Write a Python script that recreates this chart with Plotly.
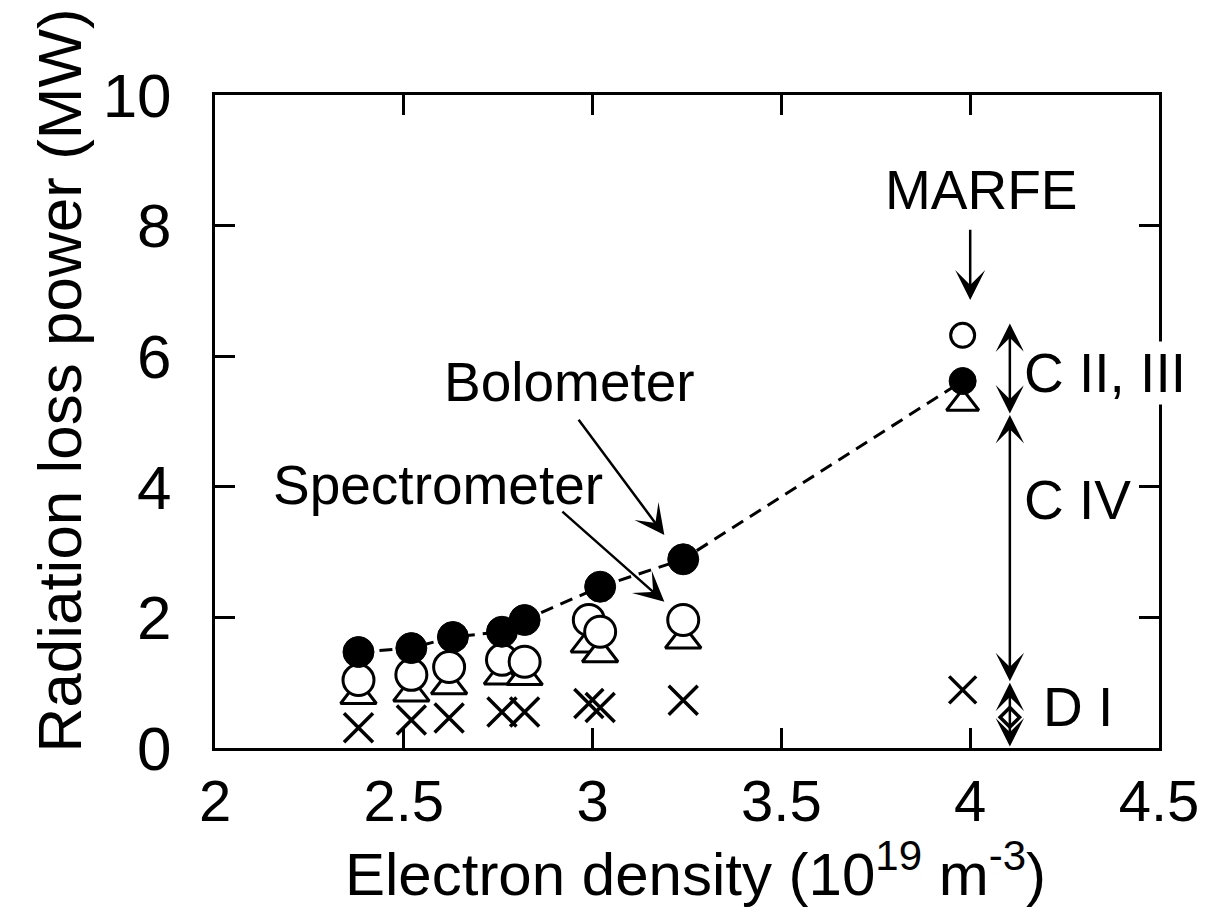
import plotly.graph_objects as go

# Electron density (10^19 m^-3)
density_bolo = [2.38, 2.52, 2.63, 2.76, 2.82, 3.02, 3.24, 3.98]
# Bolometer radiation loss power (MW)
power_bolo = [1.47, 1.53, 1.70, 1.78, 1.96, 2.47, 2.89, 5.62]

density_spec = [2.38, 2.52, 2.62, 2.76, 2.82, 2.99, 3.02, 3.24, 3.98]
# Spectrometer total (open circles)
power_spec_total = [1.04, 1.12, 1.24, 1.35, 1.32, 1.96, 1.78, 1.96, 6.32]
# Spectrometer C IV + D I (triangles)
power_spec_civ = [0.80, 0.84, 0.95, 1.10, 1.09, 1.59, 1.44, 1.65, 5.28]
# Spectrometer D I (crosses)
power_spec_di = [0.31, 0.43, 0.46, 0.55, 0.55, 0.68, 0.62, 0.73, 0.89]

# Vertical breakdown bar at the MARFE density
bar_x = 4.105
bar_levels = [0.0, 1.0, 5.1, 6.5]
bar_labels = ["D I", "C IV", "C II, III"]
bar_label_y = [0.63, 3.8, 5.74]

x_ticks = [2, 2.5, 3, 3.5, 4, 4.5]
y_ticks = [0, 2, 4, 6, 8, 10]

FONT = "Liberation Sans, Arial, sans-serif"
BLACK = "#000000"
LABEL_SIZE = 55


def sized(n, big, small):
    # the last point (MARFE) is drawn a little smaller
    return [big] * (n - 1) + [small]


fig = go.Figure()

# dashed guide through bolometer points
fig.add_trace(go.Scatter(
    x=density_bolo, y=power_bolo, mode="lines",
    line=dict(color=BLACK, width=3, dash="13px,8px"),
    hoverinfo="skip", showlegend=False))

fig.add_trace(go.Scatter(
    x=density_spec, y=power_spec_di, mode="markers", name="D I",
    marker=dict(symbol="x-thin-open", size=sized(len(density_spec), 29, 27),
                opacity=1, color=BLACK, line=dict(color=BLACK, width=3.5))))

fig.add_trace(go.Scatter(
    x=density_spec, y=power_spec_civ, mode="markers", name="C IV + D I",
    marker=dict(symbol="triangle-up", size=sized(len(density_spec), 31, 28),
                opacity=1, color="white", line=dict(color=BLACK, width=3))))

fig.add_trace(go.Scatter(
    x=density_spec, y=power_spec_total, mode="markers", name="Spectrometer",
    marker=dict(symbol="circle", size=sized(len(density_spec), 31, 24),
                opacity=1, color="white", line=dict(color=BLACK, width=3))))

fig.add_trace(go.Scatter(
    x=density_bolo, y=power_bolo, mode="markers", name="Bolometer",
    marker=dict(symbol="circle", size=sized(len(density_bolo), 31, 27),
                opacity=1, color=BLACK, line=dict(color=BLACK, width=1))))

# small marker on the D I segment
fig.add_trace(go.Scatter(
    x=[bar_x], y=[0.47], mode="markers", showlegend=False,
    marker=dict(symbol="diamond", size=15, color="white", opacity=1,
                line=dict(color=BLACK, width=3.5))))

annotations = []


def arrow(x0, y0, x1, y1, both=False, size=2.0):
    a = dict(x=x1, y=y1, ax=x0, ay=y0, xref="x", yref="y",
             axref="x", ayref="y", text="", showarrow=True,
             arrowhead=3, arrowsize=size, arrowwidth=2.5,
             arrowcolor=BLACK, standoff=0, startstandoff=0)
    if both:
        a.update(arrowside="end+start", startarrowhead=3,
                 startarrowsize=size)
    annotations.append(a)


def label(x, y, text, **kw):
    d = dict(x=x, y=y, xref="x", yref="y", text=text, showarrow=False,
             font=dict(size=LABEL_SIZE, family=FONT, color=BLACK))
    d.update(kw)
    annotations.append(d)


# MARFE marker arrow
arrow(4.0, 7.96, 4.0, 6.86)
label(4.03, 8.55, "MARFE")

# Bolometer / Spectrometer labels
arrow(2.96, 5.05, 3.19, 3.26)
label(2.94, 5.6, "Bolometer")
arrow(2.916, 3.64, 3.19, 2.24)
label(2.59, 4.02, "Spectrometer")

# breakdown bar segments
for lo, hi in zip(bar_levels[:-1], bar_levels[1:]):
    arrow(bar_x, lo, bar_x, hi, both=True, size=1.9)
label_dx = [0.085, 0.035, 0.035]
for lab, ly, dx in zip(bar_labels, bar_label_y, label_dx):
    label(bar_x + dx, ly, lab, xanchor="left", bgcolor="white", borderpad=0)

# axis titles
annotations.append(dict(x=-0.165, y=0.563, xref="paper", yref="paper",
                        text="Radiation loss power (MW)", textangle=-90,
                        showarrow=False, xanchor="center", yanchor="middle",
                        font=dict(size=62, family=FONT, color=BLACK)))
annotations.append(dict(x=0.509, y=-0.187, xref="paper", yref="paper",
                        text="Electron density (10<sup>19</sup> m<sup>-3</sup>)",
                        showarrow=False, xanchor="center", yanchor="middle",
                        font=dict(size=60, family=FONT, color=BLACK)))

fig.update_layout(
    width=1211, height=912,
    margin=dict(l=215, r=46, t=95, b=164),
    paper_bgcolor="white", plot_bgcolor="white",
    showlegend=False,
    font=dict(family=FONT, color=BLACK),
    annotations=annotations,
)

fig.update_xaxes(
    range=[2, 4.5], tickvals=x_ticks, ticktext=[f"{v:g}" for v in x_ticks],
    ticks="inside", ticklen=20, tickwidth=3, tickcolor=BLACK,
    showline=True, linewidth=3, linecolor=BLACK, mirror="ticks",
    showgrid=False, zeroline=False, ticklabelstandoff=0,
    tickfont=dict(size=58, family=FONT, color=BLACK),
)
fig.update_yaxes(
    range=[0, 10], tickvals=y_ticks, ticktext=[str(v) for v in y_ticks],
    ticks="inside", ticklen=20, tickwidth=3, tickcolor=BLACK,
    showline=True, linewidth=3, linecolor=BLACK, mirror="ticks",
    showgrid=False, zeroline=False, ticklabelstandoff=28,
    tickfont=dict(size=62, family=FONT, color=BLACK),
)

fig.write_html("out.html")
